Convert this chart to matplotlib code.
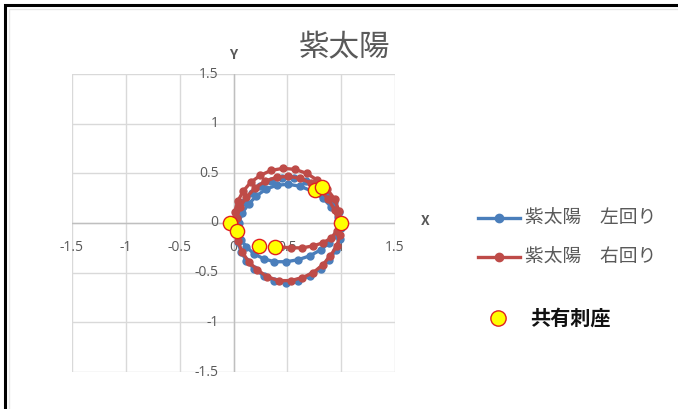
import matplotlib
matplotlib.use("Agg")
import matplotlib.pyplot as plt
from matplotlib.lines import Line2D
from matplotlib.patches import Rectangle

plt.rcParams['font.family'] = ['Noto Sans CJK JP', 'DejaVu Sans']

title = "紫太陽"
series_names = ["紫太陽　左回り", "紫太陽　右回り"]
shared_name = "共有刺座"

# 左回り (blue)
left_x = [1.00, 0.98, 0.93, 0.86, 0.77, 0.67, 0.56, 0.45, 0.35, 0.25, 0.17, 0.10, 0.06, 0.04,
          0.03, 0.04, 0.07, 0.12, 0.19, 0.28, 0.38, 0.49, 0.60, 0.71, 0.81, 0.89, 0.95, 0.99,
          1.00, 0.97, 0.91, 0.83, 0.73, 0.62, 0.51, 0.40, 0.30, 0.21, 0.14, 0.08, 0.05,
          0.04, 0.07, 0.12, 0.19, 0.28, 0.38, 0.49, 0.60, 0.71, 0.81, 0.89, 0.95]
left_y = [0.00, 0.11, 0.21, 0.30, 0.37, 0.42, 0.45, 0.45, 0.42, 0.37, 0.30, 0.21, 0.11, 0.01,
          -0.09, -0.19, -0.29, -0.38, -0.46, -0.53, -0.58, -0.60, -0.58, -0.53, -0.46, -0.37, -0.27, -0.16,
          -0.05, 0.06, 0.16, 0.25, 0.32, 0.37, 0.39, 0.38, 0.34, 0.27, 0.19, 0.10, 0.00,
          -0.09, -0.17, -0.24, -0.31, -0.36, -0.39, -0.39, -0.37, -0.33, -0.27, -0.20, -0.12]

# 右回り (red)
right_x = [0.00, 0.01, 0.04, 0.09, 0.16, 0.25, 0.35, 0.46, 0.57, 0.68, 0.78, 0.87, 0.94, 0.98,
           1.00, 0.99, 0.96, 0.90, 0.83, 0.74, 0.64, 0.53, 0.42, 0.31, 0.22, 0.14, 0.08, 0.04,
           0.02, 0.03, 0.06, 0.12, 0.20, 0.29, 0.40, 0.51, 0.62, 0.72, 0.81, 0.88, 0.94,
           0.97, 0.96, 0.91, 0.83, 0.74, 0.64, 0.53, 0.42]
right_y = [0.00, 0.11, 0.22, 0.32, 0.41, 0.48, 0.53, 0.55, 0.54, 0.50, 0.43, 0.34, 0.24, 0.12,
           0.00, -0.12, -0.23, -0.33, -0.42, -0.50, -0.55, -0.58, -0.58, -0.54, -0.47, -0.39, -0.29, -0.18,
           -0.07, 0.05, 0.16, 0.26, 0.35, 0.42, 0.46, 0.47, 0.45, 0.40, 0.33, 0.24, 0.13,
           0.02, -0.08, -0.15, -0.20, -0.23, -0.25, -0.25, -0.24]

# 共有刺座
shared_x = [-0.03, 0.03, 0.24, 0.39, 0.76, 0.82, 1.00]
shared_y = [0.00, -0.08, -0.23, -0.24, 0.33, 0.36, 0.00]

ticks = [-1.5, -1, -0.5, 0, 0.5, 1, 1.5]
tick_labels = ["-1.5", "-1", "-0.5", "0", "0.5", "1", "1.5"]

blue = "#4a7ebb"
red = "#be4b48"
gray_text = "#595959"
grid_col = "#d9d9d9"

fig = plt.figure(figsize=(6.78, 4.09), dpi=100)
fig.patch.set_facecolor("white")

# chart frame
fig.add_artist(Rectangle((5 / 678, -0.1), 1.2, 1 - 5 / 409 + 0.1, transform=fig.transFigure,
                         fill=False, edgecolor="black", linewidth=2.2))
fig.add_artist(Rectangle((9 / 678, -0.1), 1.2, 1 - 9 / 409 + 0.1, transform=fig.transFigure,
                         fill=False, edgecolor="#e6e6e6", linewidth=1.0))

ax = fig.add_axes([72 / 678, 1 - 372 / 409, (395 - 72) / 678, (372 - 74) / 409])
ax.set_xlim(-1.5, 1.5)
ax.set_ylim(-1.5, 1.5)
for s in ax.spines.values():
    s.set_visible(False)
ax.set_xticks([])
ax.set_yticks([])

for t in ticks:
    ax.axvline(t, color=grid_col, lw=1.0, zorder=0)
    ax.axhline(t, color=grid_col, lw=1.0, zorder=0)
ax.axhline(0, color="#bfbfbf", lw=1.0, zorder=0.5)
ax.axvline(0, color="#bfbfbf", lw=1.0, zorder=0.5)

for t, lab in zip(ticks, tick_labels):
    ax.text(t, -0.245, lab, ha="center", va="center", fontsize=10, color=gray_text,
            family=["Open Sans"])
    ax.text(-0.14, t, lab, ha="right", va="center", fontsize=10, color=gray_text,
            family=["Open Sans"])

ax.plot(left_x, left_y, color=blue, lw=2.4, marker="o", ms=5, zorder=3, clip_on=False)
ax.plot(right_x, right_y, color=red, lw=2.4, marker="o", ms=5, zorder=4, clip_on=False)
ax.scatter(shared_x, shared_y, s=105, facecolor="#ffff00", edgecolor="#e02020",
           linewidth=1.0, zorder=5, clip_on=False)

fig.text(345 / 678, 1 - 48 / 409, title, ha="center", va="center", fontsize=22, color=gray_text)
fig.text(233 / 678, 1 - 55 / 409, "Y", ha="center", va="center", fontsize=10,
         fontweight="bold", color=gray_text)
fig.text(425 / 678, 1 - 221 / 409, "X", ha="center", va="center", fontsize=10,
         fontweight="bold", color=gray_text)

# legend
leg_items = [(blue, 218, series_names[0]), (red, 257, series_names[1])]
for col, py, name in leg_items:
    yy = 1 - py / 409
    fig.add_artist(Line2D([478 / 678, 520 / 678], [yy, yy], transform=fig.transFigure,
                          color=col, lw=2.4))
    fig.add_artist(Line2D([499 / 678], [yy], transform=fig.transFigure, color=col,
                          marker="o", ms=6, lw=0))
    fig.text(525 / 678, yy, name, ha="left", va="center", fontsize=13.5, color=gray_text)

ys = 1 - 318 / 409
fig.add_artist(Line2D([498 / 678], [ys], transform=fig.transFigure, marker="o", ms=11,
                      markerfacecolor="#ffff00", markeredgecolor="#e02020", lw=0))
fig.text(530 / 678, ys, shared_name, ha="left", va="center", fontsize=14.5,
         fontweight="bold", color="#111111")

fig.savefig("out.png", dpi=100, facecolor="white")
